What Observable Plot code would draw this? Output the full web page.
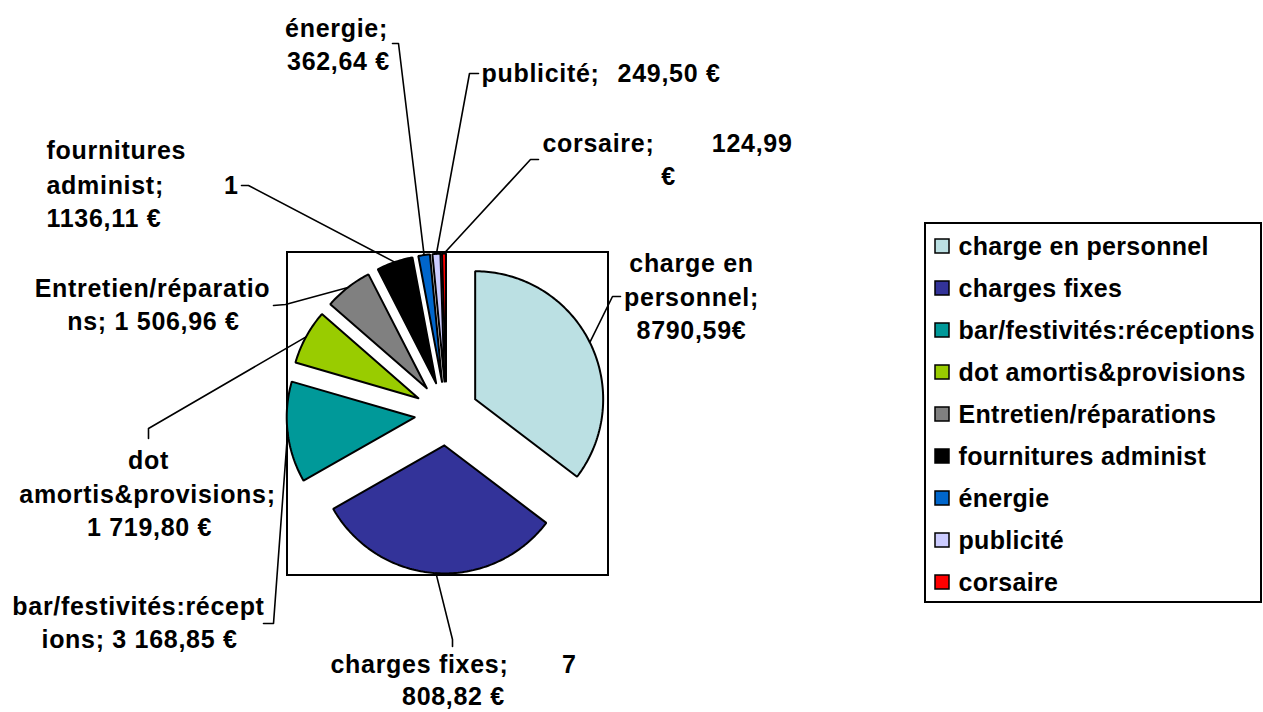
<!DOCTYPE html>
<html>
<head>
<meta charset="utf-8">
<script src="https://cdn.jsdelivr.net/npm/d3@7"></script>
<script src="https://cdn.jsdelivr.net/npm/@observablehq/plot@0.6"></script>
<style>
  html, body { margin: 0; padding: 0; background: #fff; overflow: hidden; }
  #chart svg { display: block; }
</style>
</head>
<body>
<div id="chart"></div>
<script>
// ---- data ----
const categories = ["charge en personnel", "charges fixes", "bar/festivités:réceptions", "dot amortis&provisions",
  "Entretien/réparations", "fournitures administ", "énergie", "publicité", "corsaire"];
const amounts = [8790.59, 7808.82, 3168.85, 1719.80, 1506.96, 1136.11, 362.64, 249.50, 124.99];
const colors = ["#BBE0E3", "#333399", "#009999", "#99CC00", "#808080", "#000000", "#0066CC", "#CCCCFF", "#FF0000"];

// label texts as printed on the chart (per category)
const labelTexts = [
  ["charge en", "personnel;", "8790,59€"],
  ["charges fixes;", "7", "808,82 €"],
  ["bar/festivités:récept", "ions; 3 168,85 €"],
  ["dot", "amortis&provisions;", "1 719,80 €"],
  ["Entretien/réparatio", "ns; 1 506,96 €"],
  ["fournitures", "administ;", "1", "1136,11 €"],
  ["énergie;", "362,64 €"],
  ["publicité;", "249,50 €"],
  ["corsaire;", "124,99", "€"]
];

// ---- layout ----
const W = 1263, H = 712;
const CX = 446, CY = 413, R = 128, EXPLODE = 32;
const FONT = "Liberation Sans, Arial, Helvetica, sans-serif";
const FS = 25;

// label line placements [x, y, anchor] matching labelTexts
const labelPos = [
  [[691, 263, "middle"], [691, 297, "middle"], [691, 330, "middle"]],
  [[330, 664, "start"], [576, 664, "end"], [453, 696, "middle"]],
  [[138, 606, "middle"], [139, 639, "middle"]],
  [[148, 460, "middle"], [147, 494, "middle"], [149, 527, "middle"]],
  [[152, 288, "middle"], [153, 321, "middle"]],
  [[46, 150, "start"], [46, 185, "start"], [238, 185, "end"], [46, 218, "start"]],
  [[336, 28, "middle"], [338, 61, "middle"]],
  [[481, 73, "start"], [720, 73, "end"]],
  [[542, 143, "start"], [792, 143, "end"], [668, 176, "middle"]]
];
// leader line: label-side tick start and elbow
const leaderPos = [
  [[620, 296], [612, 296]],
  [[452, 646], [452, 639]],
  [[263, 623], [273, 623]],
  [[148, 438], [148, 428]],
  [[273, 305], [285, 304]],
  [[241, 185], [248, 185]],
  [[392, 43], [398, 43]],
  [[478, 73], [469, 73]],
  [[538, 159], [530, 159]]
];

// ---- pie geometry ----
const total = d3.sum(amounts);
let acc = 0;
const slices = categories.map((name, i) => {
  const a0 = acc / total * 2 * Math.PI;
  acc += amounts[i];
  const a1 = acc / total * 2 * Math.PI;
  const mid = (a0 + a1) / 2;
  const ox = CX + EXPLODE * Math.sin(mid), oy = CY - EXPLODE * Math.cos(mid);
  return {name, a0, a1, mid, ox, oy, i};
});

const slicePts = [];
for (const s of slices) {
  slicePts.push({name: s.name, x: s.ox, y: s.oy});
  const n = Math.max(2, Math.ceil((s.a1 - s.a0) / (Math.PI / 180)));
  for (let k = 0; k <= n; k++) {
    const a = s.a0 + (s.a1 - s.a0) * k / n;
    slicePts.push({name: s.name, x: s.ox + R * Math.sin(a), y: s.oy - R * Math.cos(a)});
  }
  slicePts.push({name: s.name, x: s.ox, y: s.oy});
}

const leaderPts = [];
slices.forEach((s, i) => {
  const [p0, p1] = leaderPos[i];
  leaderPts.push({name: s.name, x: p0[0], y: p0[1]});
  leaderPts.push({name: s.name, x: p1[0], y: p1[1]});
  leaderPts.push({name: s.name, x: CX + (R + EXPLODE) * Math.sin(s.mid), y: CY - (R + EXPLODE) * Math.cos(s.mid)});
});

const labelLines = [];
labelTexts.forEach((lines, i) => lines.forEach((t, j) => {
  const [x, y, anchor] = labelPos[i][j];
  labelLines.push({text: t, x, y, anchor});
}));

// legend
const legendRows = categories.map((name, i) => ({name, y: 246 + i * 42}));

const textOpts = {fontFamily: FONT, fontSize: FS, fontWeight: "bold", fill: "black"};

const chart = Plot.plot({
  width: W, height: H,
  margin: 0, marginTop: 0, marginRight: 0, marginBottom: 0, marginLeft: 0,
  x: {type: "linear", domain: [0, W], range: [0, W], axis: null},
  y: {type: "linear", domain: [0, H], range: [0, H], axis: null},
  color: {type: "ordinal", domain: categories, range: colors},
  style: {background: "white", letterSpacing: "0.7px", fontFamily: FONT},
  marks: [
    // plot area frame
    Plot.rect([0], {x1: () => 287, x2: () => 608, y1: () => 252, y2: () => 575, fill: "none", stroke: "black", strokeWidth: 2}),
    // slices
    Plot.line(slicePts, {x: "x", y: "y", z: "name", fill: "name", stroke: "black", strokeWidth: 2, strokeLinejoin: "miter", curve: "linear"}),
    // leader lines
    Plot.line(leaderPts, {x: "x", y: "y", z: "name", stroke: "black", strokeWidth: 1.6, curve: "linear"}),
    // labels
    Plot.text(labelLines.filter(d => d.anchor === "middle"), {x: "x", y: "y", text: "text", textAnchor: "middle", ...textOpts}),
    Plot.text(labelLines.filter(d => d.anchor === "start"), {x: "x", y: "y", text: "text", textAnchor: "start", ...textOpts}),
    Plot.text(labelLines.filter(d => d.anchor === "end"), {x: "x", y: "y", text: "text", textAnchor: "end", ...textOpts}),
    // legend box
    Plot.rect([0], {x1: () => 925, x2: () => 1261, y1: () => 223, y2: () => 602, fill: "none", stroke: "black", strokeWidth: 2}),
    Plot.rect(legendRows, {x1: () => 935, x2: () => 949, y1: d => d.y - 7, y2: d => d.y + 7, fill: "name", stroke: "black", strokeWidth: 1.5}),
    Plot.text(legendRows, {x: () => 958, y: "y", text: "name", textAnchor: "start", ...textOpts, letterSpacing: "0.3px", style: "letter-spacing:0.3px"})
  ]
});
// tighten legend text spacing so the longest entry fits in its box
d3.select(chart).selectAll("g[aria-label='text']").filter((d, i, n) => i === n.length - 1).style("letter-spacing", "0.3px");
document.getElementById("chart").appendChild(chart);
</script>
</body>
</html>
